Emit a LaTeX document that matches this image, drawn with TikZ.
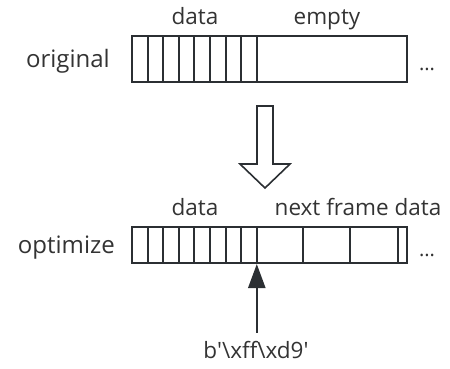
\documentclass[tikz,border=0pt]{standalone}
\usepackage{fontspec}
\setmainfont[Ligatures=TeXOff]{Open Sans}
\usetikzlibrary{arrows.meta}
\definecolor{ln}{HTML}{2B2F33}
\definecolor{tx}{HTML}{333333}
\tikzset{
  bar/.style={draw=ln, line width=2pt},
  lbl/.style={anchor=base, text=tx, inner sep=0pt, font=\fontsize{22.5}{26}\selectfont},
  side/.style={anchor=base east, text=tx, inner sep=0pt, font=\fontsize{24}{28}\selectfont},
  dots/.style={anchor=base, text=tx, inner sep=0pt, font=\fontsize{20}{24}\selectfont}
}
\begin{document}
\begin{tikzpicture}[x=1pt,y=-1pt]
\useasboundingbox (0,0) rectangle (450,368);
% top bar
\node[side] (orig) at (110,67) {original};
\node[lbl] (d1) at (195,24) {data};
\node[lbl] (e1) at (327,24) {empty};
\draw[bar] (132,36) rectangle (407,82);
\foreach \x in {147.6,163.2,178.8,194.4,210,225.6,241.2,256.8}
  \draw[bar] (\x,36) -- (\x,82);
\node[dots] (dt1) at (427,70) {...};
% hollow arrow
\draw[ln, line width=1.6pt, line join=miter]
  (257,106) -- (273,106) -- (273,164) -- (290,164) -- (265,188) -- (240,164) -- (257,164) -- cycle;
% bottom bar
\node[side] (opt) at (115,253) {optimize};
\node[lbl] (d2) at (195,215) {data};
\node[lbl] (nf) at (358,215) {next frame data};
\draw[bar] (132,227) rectangle (407,263);
\foreach \x in {147.6,163.2,178.8,194.4,210,225.6,241.2,256.8,303,350,398}
  \draw[bar] (\x,227) -- (\x,263);
\node[dots] (dt2) at (427,256) {...};
\coordinate (mark) at (256.8,264);
% marker arrow
\node[anchor=base, text=tx, inner sep=0pt, font=\fontsize{22.5}{26}\selectfont] (ff) at (256,358) {b'\textbackslash xff\textbackslash xd9'};
\draw[ln, line width=2.4pt, -{Triangle[length=24pt,width=17pt]}] ([yshift=8pt]ff.north -| mark) -- (mark);
\end{tikzpicture}
\end{document}
